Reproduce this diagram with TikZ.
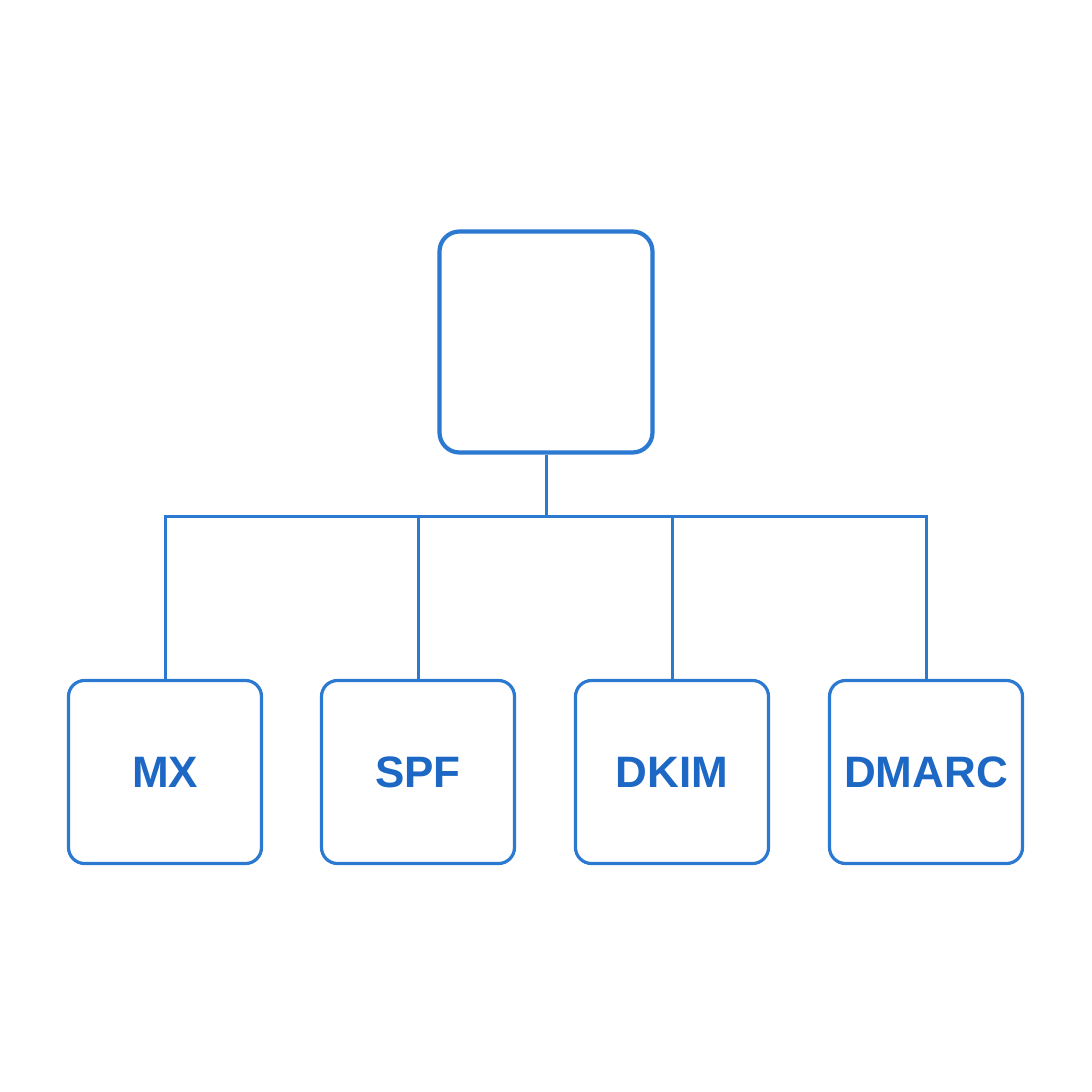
\documentclass[tikz,border=0pt]{standalone}
\usepackage{fontspec}
\setmainfont{Liberation Sans}
\begin{document}
\begin{tikzpicture}[x=1pt,y=-1pt,
  topbox/.style={draw=boxblue, line width=4.2pt, rounded corners=20pt, minimum width=213pt, minimum height=221pt, inner sep=0pt},
  leafbox/.style={draw=boxblue, line width=3.2pt, rounded corners=16pt, minimum width=193pt, minimum height=183pt, inner sep=0pt, text=txtblue, font=\bfseries\fontsize{44}{48}\selectfont},
  conn/.style={draw=boxblue, line width=3pt}]
\definecolor{boxblue}{HTML}{2B79D1}
\definecolor{txtblue}{HTML}{1D68C4}
\useasboundingbox[fill=white] (0,0) rectangle (1092,1092);
\node[topbox] (root) at (546,342) {};
\node[leafbox] (mx) at (165,772) {MX};
\node[leafbox] (spf) at (418,772) {SPF};
\node[leafbox] (dkim) at (672,772) {DKIM};
\node[leafbox] (dmarc) at (926,772) {DMARC};
\coordinate (j) at (546,516);
\coordinate (jl) at (165,516);
\coordinate (jr) at (926,516);
\draw[conn] (root.south) -- (j);
\draw[conn] ([xshift=-1.5pt]jl) -- ([xshift=1.5pt]jr);
\draw[conn] (mx.north) -- (mx.north |- j);
\draw[conn] (spf.north) -- (spf.north |- j);
\draw[conn] (dkim.north) -- (dkim.north |- j);
\draw[conn] (dmarc.north) -- (dmarc.north |- j);
\end{tikzpicture}
\end{document}
